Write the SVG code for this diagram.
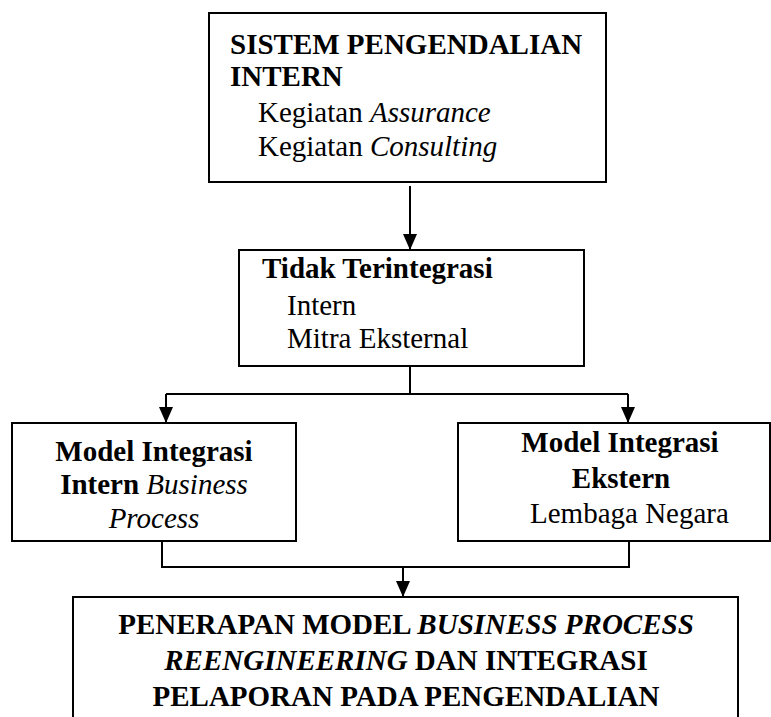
<svg xmlns="http://www.w3.org/2000/svg" width="771" height="717" viewBox="0 0 771 717">
<style>
.box{fill:#fff;stroke:#000;stroke-width:2}
.ln{fill:none;stroke:#000;stroke-width:2}
text{font-family:"Liberation Serif","Times New Roman",serif;font-size:29px;fill:#000}
.b{font-weight:bold}
.i{font-style:italic}
.m{text-anchor:middle}
</style>
<defs>
<marker id="ad" markerUnits="userSpaceOnUse" markerWidth="16" markerHeight="14" refX="16" refY="7" orient="auto" viewBox="0 0 16 14">
<path d="M0,0 L16,7 L0,14 Z" fill="#000"/>
</marker>
</defs>
<rect width="771" height="717" fill="#fff"/>
<g id="connectors">
<line class="ln" x1="410" y1="186" x2="410" y2="250" marker-end="url(#ad)"/>
<polyline class="ln" points="410,366 410,394"/>
<polyline class="ln" points="166,394 628,394"/>
<line class="ln" x1="166" y1="394" x2="166" y2="423" marker-end="url(#ad)"/>
<line class="ln" x1="628" y1="394" x2="628" y2="423" marker-end="url(#ad)"/>
<polyline class="ln" points="162,541 162,567 629,567 629,541"/>
<line class="ln" x1="403" y1="567" x2="403" y2="597" marker-end="url(#ad)"/>
</g>
<g id="sistem">
<rect class="box" x="209" y="13" width="397" height="169"/>
<text class="b" x="230" y="54">SISTEM PENGENDALIAN</text>
<text class="b" x="230" y="86">INTERN</text>
<text x="258" y="122">Kegiatan <tspan class="i">Assurance</tspan></text>
<text x="258" y="156">Kegiatan <tspan class="i">Consulting</tspan></text>
</g>
<g id="tidak">
<rect class="box" x="239" y="250" width="345" height="116"/>
<text class="b" x="262" y="278">Tidak Terintegrasi</text>
<text x="287" y="315">Intern</text>
<text x="287" y="348">Mitra Eksternal</text>
</g>
<g id="intern">
<rect class="box" x="12" y="423" width="284" height="118"/>
<text class="b m" x="154" y="461">Model Integrasi</text>
<text class="m" x="154" y="494"><tspan class="b">Intern</tspan> <tspan class="i">Business</tspan></text>
<text class="i m" x="154" y="528">Process</text>
</g>
<g id="ekstern">
<rect class="box" x="458" y="423" width="312" height="118"/>
<text class="b m" x="620" y="452">Model Integrasi</text>
<text class="b m" x="621" y="488">Ekstern</text>
<text x="530" y="523">Lembaga Negara</text>
</g>
<g id="penerapan">
<rect class="box" x="73" y="597" width="665" height="140"/>
<text class="b m" x="406" y="634">PENERAPAN MODEL <tspan class="i">BUSINESS PROCESS</tspan></text>
<text class="b m" x="406" y="670"><tspan class="i">REENGINEERING</tspan> DAN INTEGRASI</text>
<text class="b m" x="406" y="706">PELAPORAN PADA PENGENDALIAN</text>
</g>
</svg>
